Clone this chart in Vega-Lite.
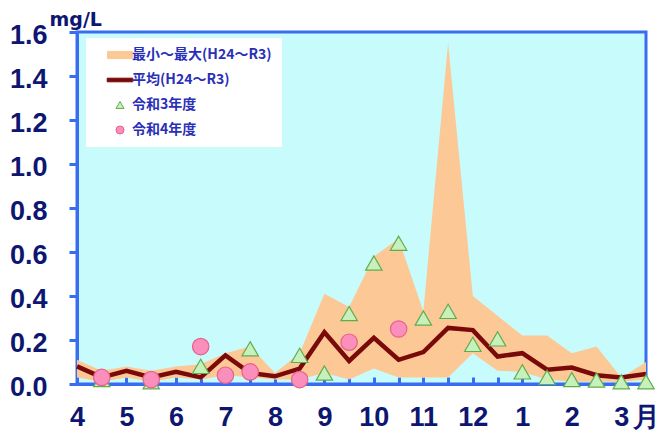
{
  "$schema": "https://vega.github.io/schema/vega-lite/v6.json",
  "width": 569,
  "height": 352,
  "autosize": "none",
  "padding": {"left": 77, "top": 32, "right": 15, "bottom": 48},
  "background": "white",
  "config": {
    "view": {"fill": "#c8fcfc", "stroke": "#3a6cf0", "strokeWidth": 3},
    "axis": {
      "grid": false,
      "domainColor": "#3a6cf0",
      "domainWidth": 3,
      "tickColor": "#3a6cf0",
      "tickWidth": 3,
      "labelFont": "Liberation Sans Narrow, Liberation Sans, Arial, sans-serif",
      "labelFontWeight": "bold",
      "labelFontSize": 27,
      "labelColor": "#0d1670"
    }
  },
  "datasets": {
    "range": [
      {"i": 0, "lo": 0.03, "hi": 0.11, "avg": 0.08},
      {"i": 1, "lo": 0.01, "hi": 0.06, "avg": 0.03},
      {"i": 2, "lo": 0.03, "hi": 0.08, "avg": 0.06},
      {"i": 3, "lo": 0.01, "hi": 0.06, "avg": 0.03},
      {"i": 4, "lo": 0.03, "hi": 0.08, "avg": 0.055},
      {"i": 5, "lo": 0.02, "hi": 0.09, "avg": 0.03},
      {"i": 6, "lo": 0.04, "hi": 0.14, "avg": 0.13},
      {"i": 7, "lo": 0.03, "hi": 0.17, "avg": 0.05},
      {"i": 8, "lo": 0.02, "hi": 0.05, "avg": 0.035},
      {"i": 9, "lo": 0.02, "hi": 0.14, "avg": 0.07},
      {"i": 10, "lo": 0.05, "hi": 0.41, "avg": 0.235},
      {"i": 11, "lo": 0.02, "hi": 0.35, "avg": 0.105},
      {"i": 12, "lo": 0.07, "hi": 0.58, "avg": 0.21},
      {"i": 13, "lo": 0.03, "hi": 0.66, "avg": 0.11},
      {"i": 14, "lo": 0.03, "hi": 0.33, "avg": 0.145},
      {"i": 15, "lo": 0.03, "hi": 1.55, "avg": 0.255},
      {"i": 16, "lo": 0.14, "hi": 0.4, "avg": 0.245},
      {"i": 17, "lo": 0.06, "hi": 0.31, "avg": 0.125},
      {"i": 18, "lo": 0.055, "hi": 0.22, "avg": 0.14},
      {"i": 19, "lo": 0.02, "hi": 0.22, "avg": 0.065},
      {"i": 20, "lo": 0.01, "hi": 0.14, "avg": 0.075},
      {"i": 21, "lo": 0.01, "hi": 0.17, "avg": 0.04},
      {"i": 22, "lo": 0.01, "hi": 0.03, "avg": 0.03},
      {"i": 23, "lo": 0.02, "hi": 0.1, "avg": 0.045}
    ],
    "obs": [
      {"i": 1, "v": 0.02, "s": "令和3年度"},
      {"i": 3, "v": 0.01, "s": "令和3年度"},
      {"i": 5, "v": 0.08, "s": "令和3年度"},
      {"i": 7, "v": 0.16, "s": "令和3年度"},
      {"i": 9, "v": 0.13, "s": "令和3年度"},
      {"i": 10, "v": 0.05, "s": "令和3年度"},
      {"i": 11, "v": 0.32, "s": "令和3年度"},
      {"i": 12, "v": 0.55, "s": "令和3年度"},
      {"i": 13, "v": 0.64, "s": "令和3年度"},
      {"i": 14, "v": 0.3, "s": "令和3年度"},
      {"i": 15, "v": 0.33, "s": "令和3年度"},
      {"i": 16, "v": 0.18, "s": "令和3年度"},
      {"i": 17, "v": 0.205, "s": "令和3年度"},
      {"i": 18, "v": 0.055, "s": "令和3年度"},
      {"i": 19, "v": 0.03, "s": "令和3年度"},
      {"i": 20, "v": 0.02, "s": "令和3年度"},
      {"i": 21, "v": 0.018, "s": "令和3年度"},
      {"i": 22, "v": 0.01, "s": "令和3年度"},
      {"i": 23, "v": 0.01, "s": "令和3年度"},
      {"i": 1, "v": 0.03, "s": "令和4年度"},
      {"i": 3, "v": 0.02, "s": "令和4年度"},
      {"i": 5, "v": 0.17, "s": "令和4年度"},
      {"i": 6, "v": 0.04, "s": "令和4年度"},
      {"i": 7, "v": 0.055, "s": "令和4年度"},
      {"i": 9, "v": 0.02, "s": "令和4年度"},
      {"i": 11, "v": 0.19, "s": "令和4年度"},
      {"i": 13, "v": 0.25, "s": "令和4年度"}
    ]
  },
  "encoding": {
    "x": {
      "field": "i",
      "type": "quantitative",
      "scale": {"domain": [0, 23], "nice": false, "zero": false},
      "axis": {
        "title": null,
        "values": [0, 1, 2, 3, 4, 5, 6, 7, 8, 9, 10, 11, 12, 13, 14, 15, 16, 17, 18, 19, 20, 21, 22, 23],
        "labelExpr": "datum.value == 23 ? '月' : (datum.value % 2 == 0 ? '' + ((3 + datum.value / 2) % 12 + 1) : '')",
        "tickSize": -7,
        "labelPadding": 27,
        "labelFlush": false,
        "labelOverlap": false
      }
    }
  },
  "layer": [
    {
      "data": {"name": "range"},
      "mark": {"type": "area", "color": "#fcc896", "opacity": 1},
      "encoding": {
        "y": {
          "field": "hi",
          "type": "quantitative",
          "scale": {"domain": [0, 1.6], "nice": false},
          "axis": {
            "values": [0, 0.2, 0.4, 0.6, 0.8, 1.0, 1.2, 1.4, 1.6],
            "format": ".1f",
            "tickSize": 8,
            "labelPadding": 22,
            "labelOffset": 3,
            "title": "mg/L",
            "titleAngle": 0,
            "titleAlign": "left",
            "titleBaseline": "alphabetic",
            "titleX": -28,
            "titleY": -7,
            "titleFont": "DejaVu Sans, sans-serif",
            "titleFontSize": 19,
            "titleFontWeight": "bold",
            "titleColor": "#0d1670"
          }
        },
        "y2": {"field": "lo"}
      }
    },
    {
      "data": {"name": "range"},
      "mark": {"type": "line", "color": "#7a0a0a", "strokeWidth": 4.5, "strokeJoin": "miter"},
      "encoding": {
        "y": {"field": "avg", "type": "quantitative"}
      }
    },
    {
      "data": {"name": "obs"},
      "mark": {"type": "point", "filled": true, "opacity": 1, "size": 270, "strokeWidth": 1.2},
      "encoding": {
        "y": {"field": "v", "type": "quantitative"},
        "fill": {
          "field": "s",
          "type": "nominal",
          "scale": {
            "domain": ["最小～最大(H24～R3)", "平均(H24～R3)", "令和3年度", "令和4年度"],
            "range": ["#fcc896", "#7a0a0a", "#c8f0bc", "#f98fba"]
          },
          "legend": {
            "title": null,
            "orient": "none",
            "legendX": 9,
            "legendY": 6,
            "fillColor": "white",
            "padding": 10,
            "rowPadding": 11,
            "symbolSize": 64,
            "symbolStrokeWidth": 1,
            "symbolOffset": 17,
            "labelOffset": 5,
            "labelFont": "Noto Sans CJK JP",
            "labelFontWeight": "bold",
            "labelFontSize": 14,
            "labelColor": "#2a2fb8",
            "labelLimit": 300
          }
        },
        "stroke": {
          "field": "s",
          "type": "nominal",
          "scale": {
            "domain": ["最小～最大(H24～R3)", "平均(H24～R3)", "令和3年度", "令和4年度"],
            "range": ["#fcc896", "#7a0a0a", "#5fae4e", "#e8608e"]
          }
        },
        "shape": {
          "field": "s",
          "type": "nominal",
          "scale": {
            "domain": ["最小～最大(H24～R3)", "平均(H24～R3)", "令和3年度", "令和4年度"],
            "range": ["M-3.1,-0.9H3.1V0.9H-3.1Z", "M-3.2,-0.45H3.2V0.45H-3.2Z", "triangle-up", "circle"]
          }
        }
      }
    }
  ]
}
